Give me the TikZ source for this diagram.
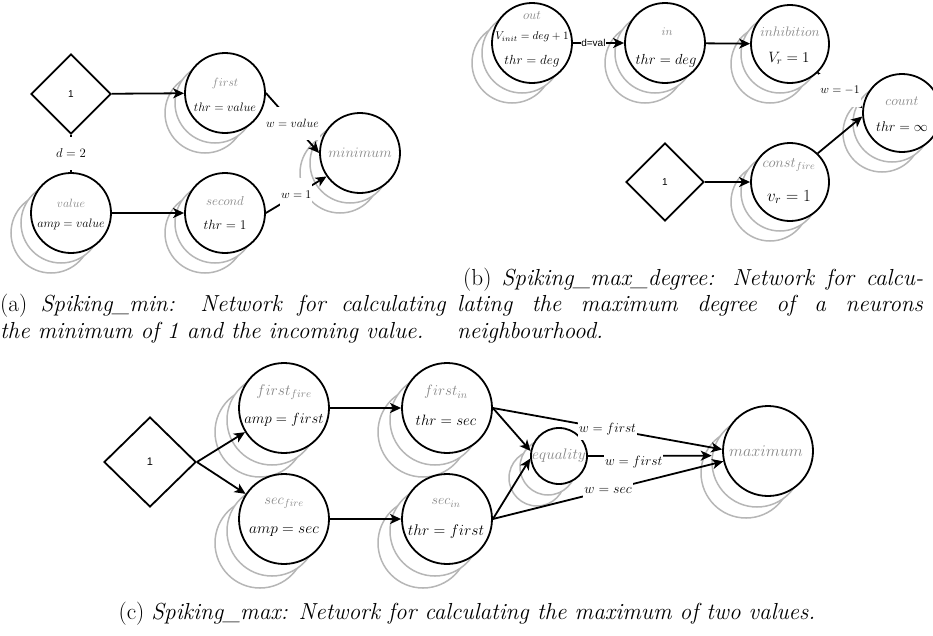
\RequirePackage{fix-cm}
\documentclass[tikz,border=0pt]{standalone}
\usepackage{fontspec}
\newfontfamily\hv{Liberation Sans}
\usetikzlibrary{arrows.meta,shapes.geometric}

\definecolor{ring}{RGB}{182,182,182}
\definecolor{tag}{RGB}{135,135,135}
\newcommand\fsz[1]{\fontsize{#1}{#1}\selectfont}
\newcommand\capfont{\fontsize{23.2}{27.8}\selectfont}

\tikzset{
  neuron/.style={circle,draw=black,line width=1.8pt,fill=white,inner sep=0pt,minimum size=#1},
  echo/.style={circle,draw=ring,line width=1.5pt,fill=white,inner sep=0pt,minimum size=#1},
  source/.style={diamond,draw=black,line width=1.8pt,fill=white,inner sep=0pt,font=\hv\fsz{10}},
  syn/.style={line width=1.8pt,-{Stealth[length=11pt,width=10pt,inset=3pt]}},
  plain/.style={line width=1.8pt},
  wl/.style={fill=white,inner xsep=1pt,inner ysep=0pt,minimum height=#1,text=black},
  wl/.default=33pt,
  tagt/.style={text=tag,inner sep=0pt},
  valt/.style={text=black,inner sep=0pt},
  captxt/.style={inner sep=0pt,font=\capfont},
}

% a neuron with its two stacked echoes: name, x, y, diameter, echo step
\newcommand\cell[5]{%
  \node[echo=#4pt] (#1-e2) at ({#2-2*#5},{#3+2*#5}) {};
  \node[echo=#4pt] (#1-e1) at ({#2-#5},{#3+#5}) {};
  \node[neuron=#4pt] (#1) at (#2,#3) {};
}

\begin{document}
\begin{tikzpicture}[x=1pt,y=-1pt]
\useasboundingbox (0,0) rectangle (933,635);

% ---------------- (a) Spiking_min ----------------
\node[source,minimum width=80pt,minimum height=80pt] (a-one) at (71,94) {1};
\cell{a-first}{225}{93}{80}{10}
\cell{a-value}{71}{213}{80}{10}
\cell{a-second}{225}{213}{80}{10}
\cell{a-min}{360}{153}{80}{10}

\draw[syn] (a-one) -- (a-first);
\draw[syn] (a-value) -- (a-second);
\draw[plain] (a-one) -- node[wl,font=\fsz{12.8}] (a-d) {$d = 2$} (a-value);
\draw[syn] (a-first.east) -- node[wl,font=\fsz{12}] (a-w1) {$w = value$} (a-min.west);
\draw[syn] (a-second.east) -- node[wl,font=\fsz{11.8}] (a-w2) {$w = 1$} (a-min.215);

\node[tagt,font=\fsz{12}] (a-first-t) at (225,83) {$first$};
\node[valt,font=\fsz{12.3}] (a-first-v) at (225,107) {$thr = value$};
\node[tagt,font=\fsz{12}] (a-value-t) at (71,203) {$value$};
\node[valt,font=\fsz{12.2}] (a-value-v) at (71,224) {$amp = value$};
\node[tagt,font=\fsz{13}] (a-second-t) at (225,201) {$second$};
\node[valt,font=\fsz{13.4}] (a-second-v) at (225,225) {$thr = 1$};
\node[tagt,font=\fsz{14.5}] (a-min-t) at (360,153) {$minimum$};

% ---------------- (b) Spiking_max_degree ----------------
\cell{b-out}{532}{43}{80}{10}
\cell{b-in}{665}{43}{80}{10}
\cell{b-inh}{790}{44}{78}{10}
\cell{b-cnt}{902}{113}{78}{10}
\node[source,minimum width=78pt,minimum height=78pt] (b-one) at (665,182) {1};
\cell{b-const}{790}{182}{78}{10}

\draw[syn] (b-out) -- node[wl=14pt,pos=0.4,inner xsep=0.5pt,font=\hv\fsz{10}] (b-d) {d=val} (b-in);
\draw[syn] (b-in) -- (b-inh);
\draw[syn] (b-inh.-46) -- node[wl,font=\fsz{11.7}] (b-w) {$w = -1$} (b-cnt.173);
\draw[syn] (b-one) -- (b-const);
\draw[syn] (b-const.46) -- (b-cnt.185);

\node[tagt,font=\fsz{13}] (b-out-t) at (532,15) {$out$};
\node[valt,font=\fsz{11.2}] (b-out-v) at (532,37) {$V_{init} = deg + 1$};
\node[valt,font=\fsz{13.2}] (b-out-h) at (532,61) {$thr = deg$};
\node[tagt,font=\fsz{11.6}] (b-in-t) at (667,32) {$in$};
\node[valt,font=\fsz{14.6}] (b-in-h) at (666,61) {$thr = deg$};
\node[tagt,font=\fsz{13.8}] (b-inh-t) at (790,32) {$inhibition$};
\node[valt,font=\fsz{15}] (b-inh-v) at (789,58) {$V_r = 1$};
\node[tagt,font=\fsz{13.9}] (b-cnt-t) at (902,101) {$count$};
\node[valt,font=\fsz{14}] (b-cnt-h) at (902,127) {$thr = \infty$};
\node[tagt,font=\fsz{14.5}] (b-const-t) at (789,165) {$const_{fire}$};
\node[valt,font=\fsz{17}] (b-const-v) at (789,197) {$v_r = 1$};

% ---------------- (c) Spiking_max ----------------
\node[source,minimum width=92pt,minimum height=90pt,font=\hv\fsz{11}] (c-one) at (150,462) {1};
\cell{c-ff}{284}{408}{90}{12}
\cell{c-sf}{284}{519}{90}{12}
\cell{c-fi}{447}{408}{90}{12}
\cell{c-si}{447}{519}{90}{12}
\cell{c-eq}{559}{456}{56}{11}
\cell{c-mx}{768}{451}{90}{11}

\draw[syn] (c-one.east) -- (c-ff);
\draw[syn] (c-one.east) -- (c-sf);
\draw[syn] (c-ff) -- (c-fi);
\draw[syn] (c-sf) -- (c-si);
\draw[syn] (c-fi.east) -- (c-eq.170);
\draw[syn] (c-si.east) -- (c-eq.185);
\draw[syn] (c-eq) -- node[wl=22pt,pos=0.37,yshift=-6pt,font=\fsz{13.5}] (c-w2) {$w = first$} (c-mx-e1.172);
\draw[syn] (c-fi.east) -- node[wl=22pt,font=\fsz{13.4}] (c-w1) {$w = first$} (c-mx.178);
\draw[syn] (c-si.east) -- node[wl=22pt,font=\fsz{14}] (c-w3) {$w = sec$} (c-mx.193);

\node[tagt,font=\fsz{15.5}] (c-ff-t) at (284,392) {$first_{fire}$};
\node[valt,font=\fsz{14.7}] (c-ff-v) at (284,420) {$amp = first$};
\node[tagt,font=\fsz{14.6}] (c-sf-t) at (284,503) {$sec_{fire}$};
\node[valt,font=\fsz{15.4}] (c-sf-v) at (284,532) {$amp = sec$};
\node[tagt,font=\fsz{15}] (c-fi-t) at (446,392) {$first_{in}$};
\node[valt,font=\fsz{15}] (c-fi-v) at (446,420) {$thr = sec$};
\node[tagt,font=\fsz{14}] (c-si-t) at (446,503) {$sec_{in}$};
\node[valt,font=\fsz{15.5}] (c-si-v) at (446,532) {$thr = first$};
\node[tagt,font=\fsz{15.3}] (c-eq-t) at (559,456) {$equality$};
\node[tagt,font=\fsz{16.3}] (c-mx-t) at (766,451) {$maximum$};

% ---------------- captions ----------------
\node[captxt,anchor=base west] (cap-b1) at (463,285)
  {\makebox[460pt][s]{(b) \textit{Spiking\_max\_degree: Network for calcu-}}};
\node[captxt,anchor=base west] (cap-a1) at (0,311)
  {\makebox[446pt][s]{(a) \textit{Spiking\_min: Network for calculating}}};
\node[captxt,anchor=base west] (cap-b2) at (457,311)
  {\makebox[466pt][s]{\textit{lating the maximum degree of a neurons}}};
\node[captxt,anchor=base west] (cap-a2) at (0,338)
  {\textit{the minimum of 1 and the incoming value.}};
\node[captxt,anchor=base west] (cap-b3) at (457,338)
  {\textit{neighbourhood.}};
\node[captxt,anchor=base] (cap-c) at (467,619)
  {(c) \textit{Spiking\_max: Network for calculating the maximum of two values.}};
\end{tikzpicture}
\end{document}
